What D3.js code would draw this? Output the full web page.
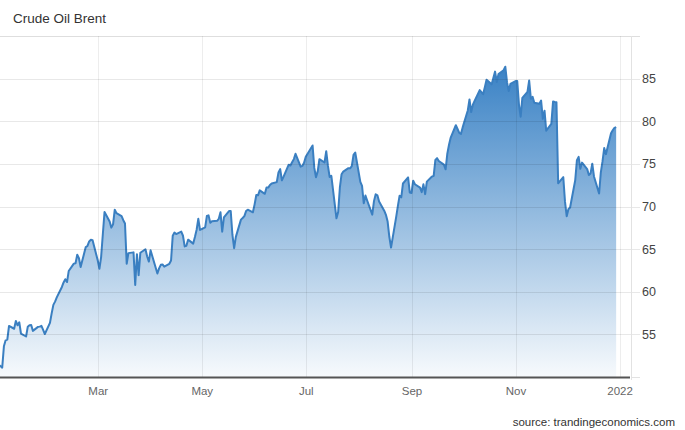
<!DOCTYPE html>
<html>
<head>
<meta charset="utf-8">
<script src="https://cdn.jsdelivr.net/npm/d3@7"></script>
<style>
  html, body { margin: 0; padding: 0; background: #fff; }
  svg { display: block; font-family: "Liberation Sans", Arial, sans-serif; }
</style>
</head>
<body>
<svg id="chart" width="685" height="430"></svg>
<script>
// ---- data (Brent crude, daily close) ----
const chartTitle = "Crude Oil Brent";
const sourceText = "source: trandingeconomics.com";

const tradeDates = [
  "2020-12-31",
  "2021-01-04","2021-01-05","2021-01-06","2021-01-07","2021-01-08","2021-01-11","2021-01-12","2021-01-13","2021-01-14","2021-01-15",
  "2021-01-18","2021-01-19","2021-01-20","2021-01-21","2021-01-22","2021-01-25","2021-01-26","2021-01-27","2021-01-28","2021-01-29",
  "2021-02-01","2021-02-02","2021-02-03","2021-02-04","2021-02-05","2021-02-08","2021-02-09","2021-02-10","2021-02-11","2021-02-12",
  "2021-02-15","2021-02-16","2021-02-17","2021-02-18","2021-02-19","2021-02-22","2021-02-23","2021-02-24","2021-02-25","2021-02-26",
  "2021-03-01","2021-03-02","2021-03-03","2021-03-04","2021-03-05","2021-03-08","2021-03-09","2021-03-10","2021-03-11","2021-03-12",
  "2021-03-15","2021-03-16","2021-03-17","2021-03-18","2021-03-19","2021-03-22","2021-03-23","2021-03-24","2021-03-25","2021-03-26",
  "2021-03-29","2021-03-30","2021-03-31",
  "2021-04-01","2021-04-05","2021-04-06","2021-04-07","2021-04-08","2021-04-09","2021-04-12","2021-04-13","2021-04-14","2021-04-15",
  "2021-04-16","2021-04-19","2021-04-20","2021-04-21","2021-04-22","2021-04-23","2021-04-26","2021-04-27","2021-04-28","2021-04-29","2021-04-30",
  "2021-05-03","2021-05-04","2021-05-05","2021-05-06","2021-05-07","2021-05-10","2021-05-11","2021-05-12","2021-05-13","2021-05-14",
  "2021-05-17","2021-05-18","2021-05-19","2021-05-20","2021-05-21","2021-05-24","2021-05-25","2021-05-26","2021-05-27","2021-05-28","2021-05-31",
  "2021-06-01","2021-06-02","2021-06-03","2021-06-04","2021-06-07","2021-06-08","2021-06-09","2021-06-10","2021-06-11",
  "2021-06-14","2021-06-15","2021-06-16","2021-06-17","2021-06-18","2021-06-21","2021-06-22","2021-06-23","2021-06-24","2021-06-25",
  "2021-06-28","2021-06-29","2021-06-30",
  "2021-07-01","2021-07-02","2021-07-05","2021-07-06","2021-07-07","2021-07-08","2021-07-09","2021-07-12","2021-07-13","2021-07-14",
  "2021-07-15","2021-07-16","2021-07-19","2021-07-20","2021-07-21","2021-07-22","2021-07-23","2021-07-26","2021-07-27","2021-07-28",
  "2021-07-29","2021-07-30",
  "2021-08-02","2021-08-03","2021-08-04","2021-08-05","2021-08-06","2021-08-09","2021-08-10","2021-08-11","2021-08-12","2021-08-13",
  "2021-08-16","2021-08-17","2021-08-18","2021-08-19","2021-08-20","2021-08-23","2021-08-24","2021-08-25","2021-08-26","2021-08-27",
  "2021-08-30","2021-08-31",
  "2021-09-01","2021-09-02","2021-09-03","2021-09-06","2021-09-07","2021-09-08","2021-09-09","2021-09-10","2021-09-13","2021-09-14",
  "2021-09-15","2021-09-16","2021-09-17","2021-09-20","2021-09-21","2021-09-22","2021-09-23","2021-09-24","2021-09-27","2021-09-28",
  "2021-09-29","2021-09-30",
  "2021-10-01","2021-10-04","2021-10-05","2021-10-06","2021-10-07","2021-10-08","2021-10-11","2021-10-12","2021-10-13","2021-10-14",
  "2021-10-15","2021-10-18","2021-10-19","2021-10-20","2021-10-21","2021-10-22","2021-10-25","2021-10-26","2021-10-27","2021-10-28","2021-10-29",
  "2021-11-01","2021-11-02","2021-11-03","2021-11-04","2021-11-05","2021-11-08","2021-11-09","2021-11-10","2021-11-11","2021-11-12",
  "2021-11-15","2021-11-16","2021-11-17","2021-11-18","2021-11-19","2021-11-22","2021-11-23","2021-11-24","2021-11-25","2021-11-26",
  "2021-11-29","2021-11-30",
  "2021-12-01","2021-12-02","2021-12-03","2021-12-06","2021-12-07","2021-12-08","2021-12-09","2021-12-10","2021-12-13","2021-12-14",
  "2021-12-15","2021-12-16","2021-12-17","2021-12-20","2021-12-21","2021-12-22","2021-12-23","2021-12-24","2021-12-27","2021-12-28",
  "2021-12-29","2021-12-30"
];

const brentPrices = [
  51.80,
  51.09,53.60,54.30,54.38,55.99,55.66,56.58,56.06,56.42,55.10,
  54.75,55.90,56.08,56.10,55.41,55.88,55.91,56.00,55.53,55.04,
  56.35,57.46,58.46,58.84,59.34,60.56,61.09,61.47,61.14,62.43,
  63.30,63.35,64.34,63.93,62.91,65.24,65.37,65.90,66.10,66.05,
  63.69,62.70,64.07,66.74,69.36,68.24,67.52,67.90,69.63,69.22,
  68.88,68.39,68.00,63.28,64.53,64.62,60.79,64.41,61.95,64.57,
  64.98,64.14,63.54,
  64.86,62.15,62.74,63.16,63.20,62.95,63.28,63.67,66.58,66.94,
  66.77,67.05,66.57,65.32,65.40,66.11,65.65,66.42,67.27,68.56,67.25,
  67.56,68.88,68.96,68.09,68.28,68.32,68.55,69.32,67.05,68.71,
  69.46,69.46,66.66,65.11,66.44,68.46,68.65,68.87,69.46,69.63,69.32,
  70.25,71.35,71.31,71.89,71.49,72.22,72.22,72.52,72.69,
  72.86,73.99,74.39,73.08,73.51,74.90,74.81,75.19,75.56,76.18,
  74.68,74.76,75.13,
  75.84,76.17,77.16,74.53,73.43,74.12,75.55,75.16,76.49,74.76,
  73.47,73.59,68.62,69.35,72.23,73.79,74.10,74.50,74.48,74.74,
  76.05,76.33,
  72.89,72.41,70.38,71.29,70.70,69.04,70.63,71.44,71.31,70.59,
  69.51,69.03,68.23,66.45,65.18,68.75,70.05,71.25,71.07,72.70,
  73.41,71.63,
  71.59,73.03,72.61,72.22,71.69,72.60,71.45,72.92,73.51,73.60,
  75.46,75.67,75.34,74.92,74.36,76.19,77.25,78.09,79.53,79.09,
  78.64,78.52,
  79.28,81.26,82.56,81.08,81.95,82.39,83.65,83.42,83.18,84.00,
  84.86,84.33,85.08,85.82,84.61,85.53,85.99,86.40,84.58,83.54,84.38,
  84.71,84.72,81.99,80.54,82.74,83.43,84.78,82.64,82.87,82.17,
  82.05,82.43,80.28,81.24,78.89,79.70,82.31,82.25,82.22,72.72,
  73.44,70.57,
  68.87,69.67,69.88,73.08,75.44,75.82,74.42,75.15,74.39,73.70,
  73.88,75.02,73.52,71.52,73.98,75.29,76.85,76.14,78.60,78.94,
  79.23,79.32
];

const xTickDates  = ["2021-03-01","2021-05-01","2021-07-01","2021-09-01","2021-11-01","2022-01-01"];
const xTickLabels = ["Mar","May","Jul","Sep","Nov","2022"];
const yTickValues = [55, 60, 65, 70, 75, 80, 85];

// ---- layout ----
const W = 685, H = 430;
const plotLeft = 0, plotRight = 631, plotTop = 36, plotBottom = 377;

const parse = d3.timeParse("%Y-%m-%d");
const series = tradeDates.map((d, i) => ({ date: parse(d), value: brentPrices[i] }));

const x = d3.scaleTime()
  .domain([new Date(2021, 0, 2, 17), new Date(2022, 0, 7, 17)])
  .range([plotLeft, plotRight]);
const y = d3.scaleLinear().domain([50, 90]).range([plotBottom, plotTop]);

const svg = d3.select("#chart");

const defs = svg.append("defs");
defs.append("clipPath").attr("id", "plotClip")
  .append("rect")
  .attr("x", plotLeft).attr("y", plotTop)
  .attr("width", plotRight - plotLeft).attr("height", plotBottom - plotTop);

const grad = defs.append("linearGradient")
  .attr("id", "areaGrad")
  .attr("gradientUnits", "userSpaceOnUse")
  .attr("x1", 0).attr("x2", 0)
  .attr("y1", y(d3.max(brentPrices))).attr("y2", plotBottom);
grad.append("stop").attr("offset", "0%").attr("stop-color", "#3a82c5").attr("stop-opacity", 1);
grad.append("stop").attr("offset", "100%").attr("stop-color", "#3a82c5").attr("stop-opacity", 0.04);

// title
svg.append("text")
  .attr("x", 13).attr("y", 23)
  .attr("font-size", 13.5).attr("fill", "#333")
  .text(chartTitle);

// top border
svg.append("line")
  .attr("x1", 0).attr("x2", 640)
  .attr("y1", plotTop + 0.5).attr("y2", plotTop + 0.5)
  .attr("stroke", "#dedede");

// area + line
const area = d3.area()
  .x(d => x(d.date)).y0(plotBottom).y1(d => y(d.value));
const line = d3.line()
  .x(d => x(d.date)).y(d => y(d.value));

const plot = svg.append("g").attr("clip-path", "url(#plotClip)");
plot.append("path").datum(series)
  .attr("d", area).attr("fill", "url(#areaGrad)");

// gridlines (over area, translucent)
const grid = svg.append("g");
grid.selectAll("line.h").data(yTickValues).join("line")
  .attr("class", "h")
  .attr("x1", plotLeft).attr("x2", 640)
  .attr("y1", d => Math.round(y(d)) + 0.5).attr("y2", d => Math.round(y(d)) + 0.5)
  .attr("stroke", "#000").attr("stroke-opacity", 0.09);
grid.selectAll("line.v").data(xTickDates.map(parse)).join("line")
  .attr("class", "v")
  .attr("x1", d => Math.round(x(d)) + 0.5).attr("x2", d => Math.round(x(d)) + 0.5)
  .attr("y1", plotTop).attr("y2", plotBottom)
  .attr("stroke", "#000").attr("stroke-opacity", 0.07);

plot.append("path").datum(series)
  .attr("d", line)
  .attr("fill", "none")
  .attr("stroke", "#3a7fc1")
  .attr("stroke-width", 2)
  .attr("stroke-linejoin", "round");

// right axis line
svg.append("line")
  .attr("x1", plotRight + 0.5).attr("x2", plotRight + 0.5)
  .attr("y1", plotTop).attr("y2", plotBottom + 3)
  .attr("stroke", "#e2e2e2");

// y axis on right
const yAxis = d3.axisRight(y).tickValues(yTickValues).tickSize(0).tickPadding(11);
const yG = svg.append("g").attr("transform", `translate(${plotRight},0)`).call(yAxis);
yG.select(".domain").remove();
yG.selectAll("text")
  .attr("font-family", "'Liberation Sans', Arial, sans-serif")
  .attr("font-size", 12.5).attr("fill", "#444");

// x axis
const xAxis = d3.axisBottom(x)
  .tickValues(xTickDates.map(parse))
  .tickFormat((d, i) => xTickLabels[i])
  .tickSize(0).tickPadding(10);
const xG = svg.append("g").attr("transform", `translate(0,${plotBottom})`).call(xAxis);
xG.select(".domain").remove();
xG.selectAll("text")
  .attr("font-family", "'Liberation Sans', Arial, sans-serif")
  .attr("font-size", 11.5).attr("fill", "#666");

svg.append("line")
  .attr("x1", plotRight).attr("x2", 640)
  .attr("y1", plotBottom + 0.5).attr("y2", plotBottom + 0.5)
  .attr("stroke", "#e2e2e2");
svg.append("line")
  .attr("x1", 0).attr("x2", plotRight - 1)
  .attr("y1", plotBottom + 0.5).attr("y2", plotBottom + 0.5)
  .attr("stroke", "#555").attr("stroke-width", 2);

// source
svg.append("text")
  .attr("x", 675).attr("y", 426)
  .attr("text-anchor", "end")
  .attr("font-size", 11.5).attr("fill", "#333")
  .text(sourceText);
</script>
</body>
</html>
